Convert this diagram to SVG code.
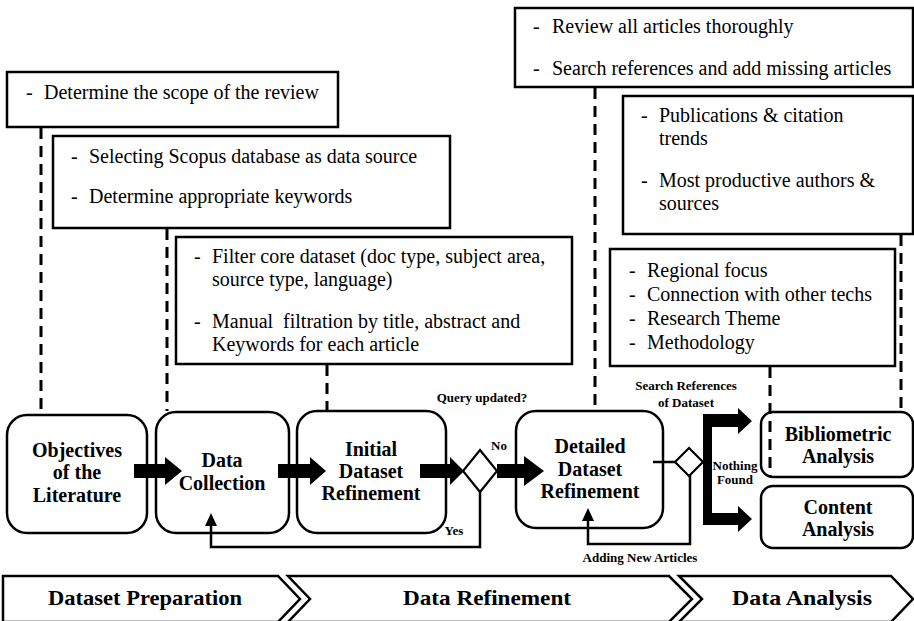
<svg xmlns="http://www.w3.org/2000/svg" width="914" height="621" viewBox="0 0 914 621">
<style>
.box{fill:#fff;stroke:#000;stroke-width:2.5}
.node{fill:#fff;stroke:#000;stroke-width:2.5}
.dec{fill:#fff;stroke:#000;stroke-width:2.2}
.dash{stroke:#000;stroke-width:3;stroke-dasharray:11 7;fill:none}
.line{stroke:#000;stroke-width:2.5;fill:none}
.solid{fill:#000;stroke:none}
.chev{fill:#fff;stroke:#000;stroke-width:2.5}
text{font-family:"Liberation Serif","Times New Roman",serif;fill:#000}
.t{font-size:20px}
.n{font-size:20px;font-weight:bold;text-anchor:middle}
.l{font-size:13px;font-weight:bold;text-anchor:middle}
.c{font-size:22px;font-weight:bold;text-anchor:middle}
</style>
<rect width="914" height="621" fill="#fff"/>

<g id="box-scope">
<rect class="box" x="7" y="72" width="331" height="55"/>
<text class="t" x="26" y="99">-</text><text class="t" x="44" y="99">Determine the scope of the review</text>
</g>
<g id="box-scopus">
<rect class="box" x="53" y="136" width="397" height="92"/>
<text class="t" x="71" y="163">-</text><text class="t" x="89" y="163">Selecting Scopus database as data source</text>
<text class="t" x="71" y="203">-</text><text class="t" x="89" y="203">Determine appropriate keywords</text>
</g>
<g id="box-filter">
<rect class="box" x="176" y="237" width="396" height="127"/>
<text class="t" x="194" y="263">-</text><text class="t" x="212" y="263">Filter core dataset (doc type, subject area,</text>
<text class="t" x="212" y="286">source type, language)</text>
<text class="t" x="194" y="328">-</text><text class="t" x="212" y="328" xml:space="preserve">Manual  filtration by title, abstract and</text>
<text class="t" x="212" y="351">Keywords for each article</text>
</g>
<g id="box-review">
<rect class="box" x="515" y="8" width="398" height="79"/>
<text class="t" x="533" y="33">-</text><text class="t" x="552" y="33">Review all articles thoroughly</text>
<text class="t" x="533" y="75">-</text><text class="t" x="552" y="75">Search references and add missing articles</text>
</g>
<g id="box-biblio">
<rect class="box" x="623" y="96" width="290" height="138"/>
<text class="t" x="641" y="122">-</text><text class="t" x="659" y="122">Publications &amp; citation</text>
<text class="t" x="659" y="145">trends</text>
<text class="t" x="641" y="187">-</text><text class="t" x="659" y="187">Most productive authors &amp;</text>
<text class="t" x="659" y="210">sources</text>
</g>
<g id="box-content">
<rect class="box" x="610" y="249" width="285" height="117"/>
<text class="t" x="629" y="277">-</text><text class="t" x="647" y="277">Regional focus</text>
<text class="t" x="629" y="301">-</text><text class="t" x="647" y="301">Connection with other techs</text>
<text class="t" x="629" y="325">-</text><text class="t" x="647" y="325">Research Theme</text>
<text class="t" x="629" y="349">-</text><text class="t" x="647" y="349">Methodology</text>
</g>

<g id="node-objectives">
<rect class="node" x="7" y="415" width="140" height="118" rx="20"/>
<text class="n" x="77" y="457">Objectives</text>
<text class="n" x="77" y="479">of the</text>
<text class="n" x="77" y="502">Literature</text>
</g>
<g id="node-collection">
<rect class="node" x="156" y="412" width="133" height="121" rx="20"/>
<text class="n" x="222" y="467">Data</text>
<text class="n" x="222" y="490">Collection</text>
</g>
<g id="node-initial">
<rect class="node" x="297" y="411" width="149" height="122" rx="20"/>
<text class="n" x="371" y="456">Initial</text>
<text class="n" x="371" y="478">Dataset</text>
<text class="n" x="371" y="500">Refinement</text>
</g>
<g id="node-detailed">
<rect class="node" x="516" y="411" width="147" height="117" rx="20"/>
<text class="n" x="590" y="453">Detailed</text>
<text class="n" x="590" y="476">Dataset</text>
<text class="n" x="590" y="498">Refinement</text>
</g>
<g id="node-bibliometric">
<rect class="node" x="761" y="412" width="152" height="65" rx="12"/>
<text class="n" x="838" y="441">Bibliometric</text>
<text class="n" x="838" y="463">Analysis</text>
</g>
<g id="node-contentanalysis">
<rect class="node" x="761" y="486" width="152" height="62" rx="12"/>
<text class="n" x="838" y="514">Content</text>
<text class="n" x="838" y="536">Analysis</text>
</g>

<g id="connectors">
<line class="dash" x1="41" y1="128" x2="41" y2="414"/>
<line class="dash" x1="167" y1="229" x2="167" y2="411"/>
<line class="dash" x1="327" y1="365" x2="327" y2="410"/>
<line class="dash" x1="595" y1="88" x2="595" y2="410"/>
<line class="dash" x1="770" y1="367" x2="770" y2="477"/>
<line class="dash" x1="901" y1="235" x2="901" y2="411"/>
<polygon class="solid" points="134,464 165,464 165,457 182,471 165,485 165,478 134,478"/>
<polygon class="solid" points="278,464 310,464 310,457 326,471 310,485 310,478 278,478"/>
<polygon class="solid" points="420,464 450,464 450,457 464,471 450,485 450,478 420,478"/>
<polygon class="solid" points="497,464 524,464 524,456 544,471 524,486 524,478 497,478"/>
<polyline class="line" points="480,491 480,547 211,547 211,524"/>
<polygon class="solid" points="205,526 217,526 211,513"/>
<line class="line" x1="653" y1="462" x2="676" y2="462"/>
<polyline class="line" points="690,475 690,544 588,544 588,519"/>
<polygon class="solid" points="582,521 594,521 588,508"/>
<polygon class="solid" points="703,414 738,414 738,408 752,421 738,434 738,427 712,427 712,513 738,513 738,506 752,519 738,532 738,525 703,525"/>
<text class="l" x="482" y="402">Query updated?</text>
<text class="l" x="499" y="450">No</text>
<text class="l" x="454" y="535">Yes</text>
<text class="l" x="686" y="390">Search References</text>
<text class="l" x="686" y="407">of Dataset</text>
<text class="l" x="735" y="470">Nothing</text>
<text class="l" x="735" y="484">Found</text>
<text class="l" x="640" y="562">Adding New Articles</text>
</g>

<g id="decision-query">
<polygon class="dec" points="480,450 497,471 480,492 463,471"/>
</g>
<g id="decision-search">
<polygon class="dec" points="689,448 703,462 689,476 675,462"/>
</g>

<g id="phase-preparation">
<polygon class="chev" points="3,576 278,576 300,599 278,622 3,622"/>
<text class="c" x="145" y="605" textLength="194" lengthAdjust="spacingAndGlyphs">Dataset Preparation</text>
</g>
<g id="phase-refinement">
<polygon class="chev" points="288,576 669,576 692,599 669,622 288,622 310,599"/>
<text class="c" x="487" y="605" textLength="168" lengthAdjust="spacingAndGlyphs">Data Refinement</text>
</g>
<g id="phase-analysis">
<polygon class="chev" points="679,576 891,576 913,599 891,622 679,622 702,599"/>
<text class="c" x="802" y="605" textLength="140" lengthAdjust="spacingAndGlyphs">Data Analysis</text>
</g>
</svg>
